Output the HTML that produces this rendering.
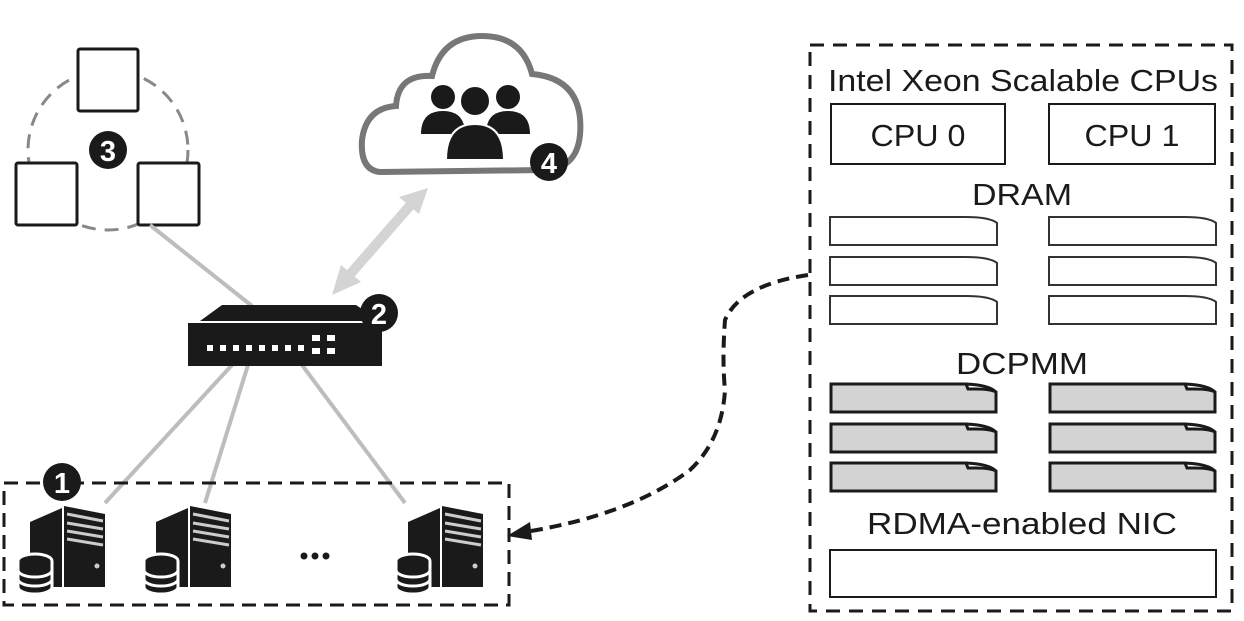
<!DOCTYPE html>
<html><head><meta charset="utf-8"><style>
html,body{margin:0;padding:0;background:#fff;}
svg{display:block;}
text{font-family:"Liberation Sans",sans-serif;fill:#1a1a1a;}
</style></head><body>
<svg width="1244" height="621" viewBox="0 0 1244 621" xmlns="http://www.w3.org/2000/svg">
<defs>
<g id="srv">
  <path d="M13,18 L45,4 L45,83 L13,83 Z" fill="#1a1a1a"/>
  <path d="M47,2 L88,10 L88,83 L47,83 Z" fill="#1a1a1a"/>
  <path d="M50,10 L86,17" stroke="#ccc" stroke-width="3"/>
  <path d="M50,19 L86,25" stroke="#ccc" stroke-width="3"/>
  <path d="M50,27 L86,33" stroke="#ccc" stroke-width="3"/>
  <path d="M50,35 L86,41" stroke="#ccc" stroke-width="3"/>
  <circle cx="80" cy="62" r="2.5" fill="#ccc"/>
  <g stroke="#fff" stroke-width="3">
    <ellipse cx="18" cy="57" rx="17" ry="7" fill="#1a1a1a"/>
    <path d="M1,57 L1,83 A17,7 0 0 0 35,83 L35,57" fill="#1a1a1a"/>
    <path d="M1,66 A17,7 0 0 0 35,66 M1,75 A17,7 0 0 0 35,75" fill="none"/>
  </g>
</g>
<g id="dram">
  <path d="M0,0 L135,0 Q160,0 167,6 L167,28 L0,28 Z" fill="#fff" stroke="#333" stroke-width="2"/>
</g>
<g id="pmm">
  <path d="M0,0 L135,0 L137,5 L145,5 Q160,5 165,8 L165,28 L0,28 Z" fill="#d3d3d3" stroke="#1a1a1a" stroke-width="3"/>
  <path d="M135,0 Q158,1 165,8" fill="none" stroke="#1a1a1a" stroke-width="3"/>
</g>
</defs>

<circle cx="108" cy="150" r="80" fill="none" stroke="#888" stroke-width="3" stroke-dasharray="14,9"/>
<rect x="78" y="49" width="60" height="62" fill="#fff" stroke="#1a1a1a" stroke-width="3" rx="2"/>
<rect x="16" y="163" width="61" height="62" fill="#fff" stroke="#1a1a1a" stroke-width="3" rx="2"/>
<rect x="138" y="163" width="61" height="62" fill="#fff" stroke="#1a1a1a" stroke-width="3" rx="2"/>
<circle cx="108" cy="150" r="19" fill="#1a1a1a"/>
<text x="108" y="161" font-size="29" font-weight="bold" text-anchor="middle" style="fill:#fff">3</text>

<g stroke="#bdbdbd" stroke-width="4">
<line x1="150" y1="225" x2="252" y2="306"/>
<line x1="232" y1="365" x2="105" y2="503"/>
<line x1="248" y1="365" x2="205" y2="503"/>
<line x1="302" y1="365" x2="405" y2="503"/>
</g>

<g fill="#d4d4d4">
<line x1="345" y1="280" x2="415" y2="200" stroke="#d4d4d4" stroke-width="10"/>
<polygon points="428,188 399,197 419,214"/>
<polygon points="332,295 341,265 361,282"/>
</g>

<path d="M380,172 Q360,170 362,140 Q366,108 396,106 Q398,74 432,76 Q442,36 482,36 Q522,36 532,74 Q576,78 580,118 Q584,168 545,170 Z" fill="#fff" stroke="#777" stroke-width="6"/>
<g fill="#1a1a1a">
<circle cx="443" cy="97" r="12"/><path d="M421,134 Q421,111 443,111 Q465,111 465,134 Z"/>
<circle cx="508" cy="97" r="12"/><path d="M486,134 Q486,111 508,111 Q530,111 530,134 Z"/>
<circle cx="475" cy="101" r="15" stroke="#fff" stroke-width="2"/><path d="M446,160 Q446,124 475,124 Q504,124 504,160 Z" stroke="#fff" stroke-width="2"/>
</g>
<circle cx="549" cy="162" r="19" fill="#1a1a1a"/>
<text x="549" y="173" font-size="29" font-weight="bold" text-anchor="middle" style="fill:#fff">4</text>

<path d="M200,321 L222,305 L356,305 L380,321 Z" fill="#1a1a1a"/>
<rect x="188" y="323" width="194" height="43" fill="#1a1a1a"/>
<g fill="#fff">
<rect x="207" y="345" width="6" height="6"/><rect x="220" y="345" width="6" height="6"/><rect x="233" y="345" width="6" height="6"/><rect x="246" y="345" width="6" height="6"/><rect x="259" y="345" width="6" height="6"/><rect x="272" y="345" width="6" height="6"/><rect x="285" y="345" width="6" height="6"/><rect x="298" y="345" width="6" height="6"/>
<rect x="312" y="335" width="8" height="6"/><rect x="312" y="348" width="8" height="6"/><rect x="327" y="335" width="8" height="6"/><rect x="327" y="348" width="8" height="6"/>
</g>
<circle cx="379" cy="313" r="19" fill="#1a1a1a"/>
<text x="379" y="324" font-size="29" font-weight="bold" text-anchor="middle" style="fill:#fff">2</text>

<rect x="4" y="483" width="505" height="122" fill="none" stroke="#1a1a1a" stroke-width="3" stroke-dasharray="14,8"/>
<use href="#srv" x="17" y="504"/>
<use href="#srv" x="143" y="504"/>
<use href="#srv" x="395" y="504"/>
<circle cx="304" cy="556" r="3.5" fill="#1a1a1a"/><circle cx="315" cy="556" r="3.5" fill="#1a1a1a"/><circle cx="326" cy="556" r="3.5" fill="#1a1a1a"/>
<circle cx="62" cy="482" r="19" fill="#1a1a1a"/>
<text x="62" y="493" font-size="29" font-weight="bold" text-anchor="middle" style="fill:#fff">1</text>

<path d="M808,275 Q740,285 725,320 Q722,360 725,390 Q722,440 690,470 Q630,515 525,532" fill="none" stroke="#1a1a1a" stroke-width="4" stroke-dasharray="12,7"/>
<polygon points="507,536 530,522 532,540" fill="#1a1a1a"/>

<rect x="810" y="45" width="422" height="566" fill="none" stroke="#1a1a1a" stroke-width="3" stroke-dasharray="14,9"/>
<text x="1023" y="91" font-size="31" text-anchor="middle" textLength="390" lengthAdjust="spacingAndGlyphs">Intel Xeon Scalable CPUs</text>
<rect x="831" y="104" width="174" height="60" fill="#fff" stroke="#1a1a1a" stroke-width="2"/>
<rect x="1049" y="104" width="166" height="60" fill="#fff" stroke="#1a1a1a" stroke-width="2"/>
<text x="918" y="146" font-size="31" text-anchor="middle" textLength="95" lengthAdjust="spacingAndGlyphs">CPU 0</text>
<text x="1132" y="146" font-size="31" text-anchor="middle" textLength="95" lengthAdjust="spacingAndGlyphs">CPU 1</text>
<text x="1022" y="205" font-size="31" text-anchor="middle" textLength="100" lengthAdjust="spacingAndGlyphs">DRAM</text>
<use href="#dram" x="830" y="217"/><use href="#dram" x="1049" y="217"/>
<use href="#dram" x="830" y="257"/><use href="#dram" x="1049" y="257"/>
<use href="#dram" x="830" y="296"/><use href="#dram" x="1049" y="296"/>
<text x="1022" y="374" font-size="31" text-anchor="middle" textLength="132" lengthAdjust="spacingAndGlyphs">DCPMM</text>
<use href="#pmm" x="831" y="384"/><use href="#pmm" x="1050" y="384"/>
<use href="#pmm" x="831" y="424"/><use href="#pmm" x="1050" y="424"/>
<use href="#pmm" x="831" y="463"/><use href="#pmm" x="1050" y="463"/>
<text x="1022" y="534" font-size="31" text-anchor="middle" textLength="310" lengthAdjust="spacingAndGlyphs">RDMA-enabled NIC</text>
<rect x="830" y="550" width="386" height="47" fill="#fff" stroke="#1a1a1a" stroke-width="2"/>
</svg>
</body></html>
